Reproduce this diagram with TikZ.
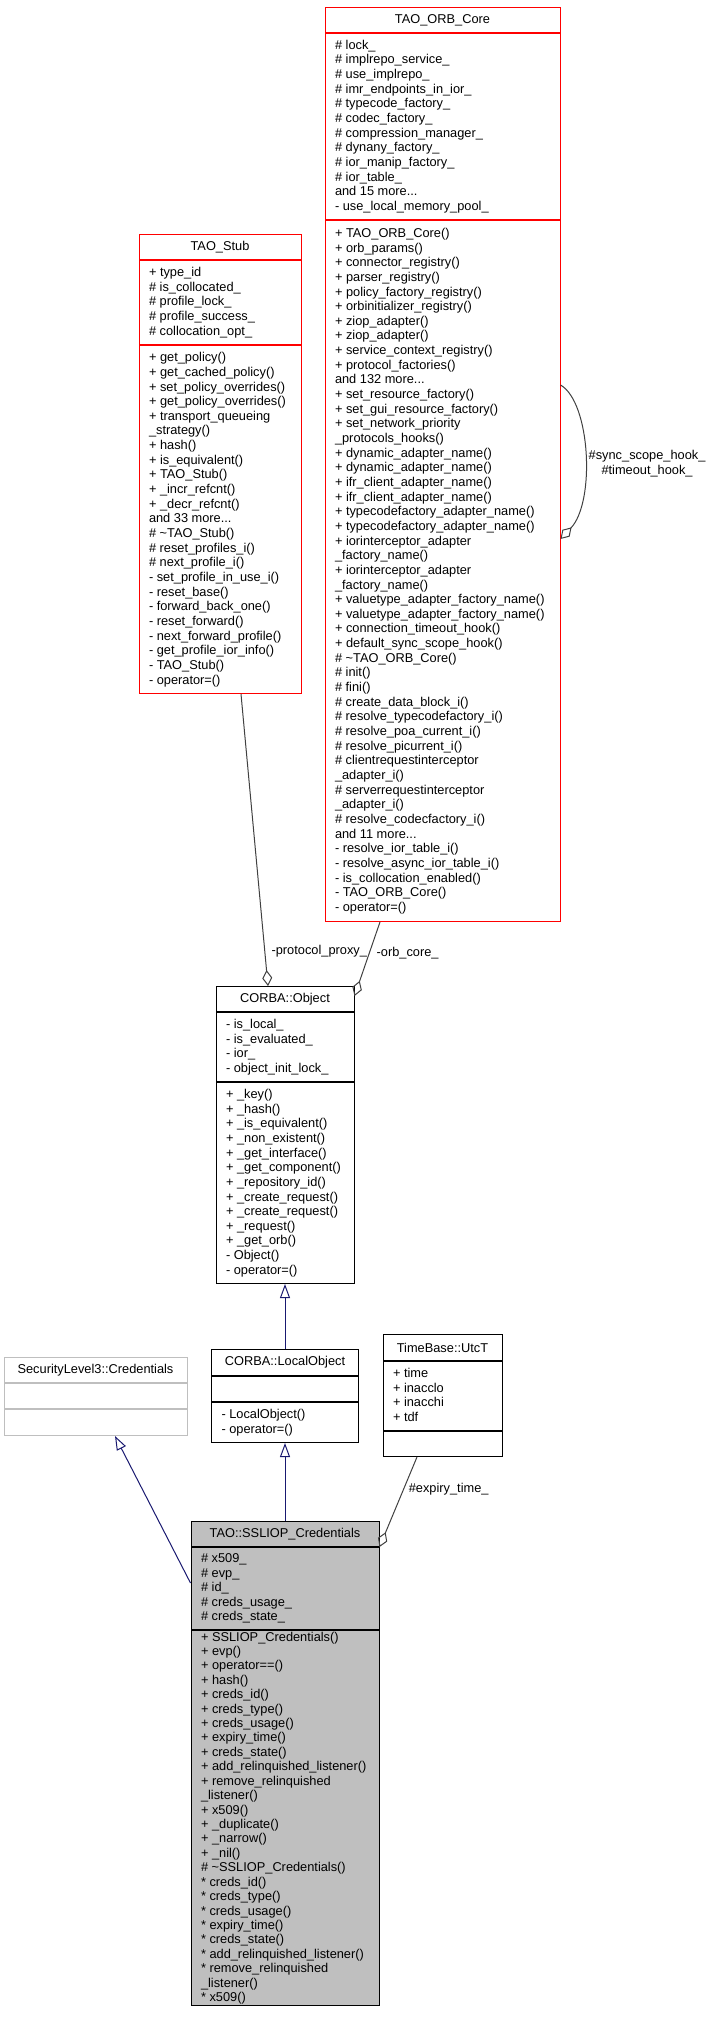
\documentclass[tikz,border=0pt]{standalone}
\usepackage{fontspec}
\setmainfont{Liberation Sans}
\usetikzlibrary{arrows.meta}
\definecolor{C1}{HTML}{FF0000}
\definecolor{C2}{HTML}{191970}
\definecolor{C3}{HTML}{404040}
\definecolor{C4}{HTML}{BFBFBF}
\def\fs{\fontsize{12.8}{14.65}\selectfont\offinterlineskip}
\def\fss{\fontsize{12.8}{14.42}\selectfont\offinterlineskip}
\def\ls{\rule[-3.95pt]{0pt}{14.65pt}}
\def\lss{\rule[-3.9pt]{0pt}{14.42pt}}
\def\br{\\\ls}
\def\brs{\\\lss}

\begin{document}
\begin{tikzpicture}[x=1pt,y=-1pt]
\tikzstyle{t} = [draw,line width=1pt,anchor=north,align=center,inner xsep=10pt,inner ysep=0pt,minimum height=25pt,font=\fs]
\tikzstyle{p} = [draw,line width=1pt,anchor=north,align=left,inner xsep=10pt,inner ysep=0pt,font=\fs]
\tikzstyle{inh} = [C2,line width=1pt,-{Triangle[open,length=14pt,width=10pt]}]
\tikzstyle{use} = [C3,line width=1pt,-{Diamond[open,length=16pt,width=10pt]}]
\tikzstyle{lbl} = [font=\fs,text=black]
\useasboundingbox (0,0) rectangle (713,2029);

\node[t,draw=C1,minimum width=235pt] (core) at (442.5,7) {TAO\_ORB\_Core};
\node[p,draw=C1,minimum width=235pt,minimum height=186pt] (core-a) at (core.south) {\ls\makebox[215pt][l]{\# lock\_}\br\# implrepo\_service\_\br\# use\_implrepo\_\br\# imr\_endpoints\_in\_ior\_\br\# typecode\_factory\_\br\# codec\_factory\_\br\# compression\_manager\_\br\# dynany\_factory\_\br\# ior\_manip\_factory\_\br\# ior\_table\_\br and 15 more...\br- use\_local\_memory\_pool\_};
\node[p,draw=C1,minimum width=235pt,minimum height=701pt] (core-m) at (core-a.south) {\ls\makebox[215pt][l]{+ TAO\_ORB\_Core()}\br+ orb\_params()\br+ connector\_registry()\br+ parser\_registry()\br+ policy\_factory\_registry()\br+ orbinitializer\_registry()\br+ ziop\_adapter()\br+ ziop\_adapter()\br+ service\_context\_registry()\br+ protocol\_factories()\br and 132 more...\br+ set\_resource\_factory()\br+ set\_gui\_resource\_factory()\br+ set\_network\_priority\br\_protocols\_hooks()\br+ dynamic\_adapter\_name()\br+ dynamic\_adapter\_name()\br+ ifr\_client\_adapter\_name()\br+ ifr\_client\_adapter\_name()\br+ typecodefactory\_adapter\_name()\br+ typecodefactory\_adapter\_name()\br+ iorinterceptor\_adapter\br\_factory\_name()\br+ iorinterceptor\_adapter\br\_factory\_name()\br+ valuetype\_adapter\_factory\_name()\br+ valuetype\_adapter\_factory\_name()\br+ connection\_timeout\_hook()\br+ default\_sync\_scope\_hook()\br\# \textasciitilde TAO\_ORB\_Core()\br\# init()\br\# fini()\br\# create\_data\_block\_i()\br\# resolve\_typecodefactory\_i()\br\# resolve\_poa\_current\_i()\br\# resolve\_picurrent\_i()\br\# clientrequestinterceptor\br\_adapter\_i()\br\# serverrequestinterceptor\br\_adapter\_i()\br\# resolve\_codecfactory\_i()\br and 11 more...\br- resolve\_ior\_table\_i()\br- resolve\_async\_ior\_table\_i()\br- is\_collocation\_enabled()\br- TAO\_ORB\_Core()\br- operator=()};

\node[t,draw=C1,minimum width=162pt] (stub) at (220,234) {TAO\_Stub};
\node[p,draw=C1,minimum width=162pt,minimum height=84pt] (stub-a) at (stub.south) {\ls\makebox[142pt][l]{+ type\_id}\br\# is\_collocated\_\br\# profile\_lock\_\br\# profile\_success\_\br\# collocation\_opt\_};
\node[p,draw=C1,minimum width=162pt,minimum height=348pt] (stub-m) at (stub-a.south) {\ls\makebox[142pt][l]{+ get\_policy()}\br+ get\_cached\_policy()\br+ set\_policy\_overrides()\br+ get\_policy\_overrides()\br+ transport\_queueing\br\_strategy()\br+ hash()\br+ is\_equivalent()\br+ TAO\_Stub()\br+ \_incr\_refcnt()\br+ \_decr\_refcnt()\br and 33 more...\br\# \textasciitilde TAO\_Stub()\br\# reset\_profiles\_i()\br\# next\_profile\_i()\br- set\_profile\_in\_use\_i()\br- reset\_base()\br- forward\_back\_one()\br- reset\_forward()\br- next\_forward\_profile()\br- get\_profile\_ior\_info()\br- TAO\_Stub()\br- operator=()};

\node[t,minimum width=138pt] (obj) at (285,986) {CORBA::Object};
\node[p,minimum width=138pt,minimum height=69pt] (obj-a) at (obj.south) {\ls\makebox[118pt][l]{- is\_local\_}\br- is\_evaluated\_\br- ior\_\br- object\_init\_lock\_};
\node[p,minimum width=138pt,minimum height=201pt] (obj-m) at (obj-a.south) {\ls\makebox[118pt][l]{+ \_key()}\br+ \_hash()\br+ \_is\_equivalent()\br+ \_non\_existent()\br+ \_get\_interface()\br+ \_get\_component()\br+ \_repository\_id()\br+ \_create\_request()\br+ \_create\_request()\br+ \_request()\br+ \_get\_orb()\br- Object()\br- operator=()};

\node[t,draw=C4,minimum width=183pt] (cred) at (95.5,1357) {SecurityLevel3::Credentials};
\node[p,draw=C4,minimum width=183pt,minimum height=25pt] (cred-a) at (cred.south) {};
\node[p,draw=C4,minimum width=183pt,minimum height=26pt] (cred-m) at (cred-a.south) {};

\node[t,minimum width=147pt,minimum height=26pt] (lobj) at (285,1349) {CORBA::LocalObject};
\node[p,minimum width=147pt,minimum height=25pt] (lobj-a) at (lobj.south) {};
\node[p,minimum width=147pt,minimum height=40pt] (lobj-m) at (lobj-a.south) {\ls\makebox[127pt][l]{- LocalObject()}\br- operator=()};

\node[t,minimum width=119pt,minimum height=26pt] (utc) at (442.5,1334) {TimeBase::UtcT};
\node[p,minimum width=119pt,minimum height=69pt] (utc-a) at (utc.south) {\ls\makebox[99pt][l]{+ time}\br+ inacclo\br+ inacchi\br+ tdf};
\node[p,minimum width=119pt,minimum height=25pt] (utc-m) at (utc-a.south) {};

\node[t,fill=C4,minimum width=188pt] (ssl) at (285,1521) {TAO::SSLIOP\_Credentials};
\node[p,fill=C4,font=\fss,minimum width=188pt,minimum height=82pt] (ssl-a) at (ssl.south) {\lss\makebox[168pt][l]{\# x509\_}\brs\# evp\_\brs\# id\_\brs\# creds\_usage\_\brs\# creds\_state\_};
\node[p,fill=C4,font=\fss,minimum width=188pt,minimum height=370pt] (ssl-m) at (ssl-a.south) {\lss\makebox[168pt][l]{+ SSLIOP\_Credentials()}\brs+ evp()\brs+ operator==()\brs+ hash()\brs+ creds\_id()\brs+ creds\_type()\brs+ creds\_usage()\brs+ expiry\_time()\brs+ creds\_state()\brs+ add\_relinquished\_listener()\brs+ remove\_relinquished\brs\_listener()\brs+ x509()\brs+ \_duplicate()\brs+ \_narrow()\brs+ \_nil()\brs\# \textasciitilde SSLIOP\_Credentials()\brs{*} creds\_id()\brs{*} creds\_type()\brs{*} creds\_usage()\brs{*} expiry\_time()\brs{*} creds\_state()\brs{*} add\_relinquished\_listener()\brs{*} remove\_relinquished\brs\_listener()\brs{*} x509()};

\draw[use] ([xshift=21pt]stub-m.south) -- ([xshift=-17pt]obj.north) node[lbl,pos=0.88,anchor=west,xshift=3pt] {-protocol\_proxy\_};
\draw[use] ([xshift=-62.5pt]core-m.south) -- ([yshift=-10pt]obj.north east) node[lbl,pos=0.42,anchor=west,xshift=3.5pt] {-orb\_core\_};
\draw[use] ([yshift=-165pt]core-m.north east) .. controls +(30,17) and +(35,-37) .. ([yshift=-319pt]core-m.north east) node[lbl,pos=0.5,anchor=west,yshift=-9pt,align=center] {\ls\#sync\_scope\_hook\_\br\#timeout\_hook\_};
\draw[use] ([xshift=-25.5pt]utc-m.south) -- (ssl.south east) node[lbl,pos=0.36,anchor=west,xshift=1.5pt] {\#expiry\_time\_};
\draw[inh] (lobj.north) -- (obj-m.south);
\draw[inh] (ssl.north) -- (lobj-m.south);
\draw[inh] ([yshift=-36pt]ssl-a.north west) -- ([xshift=19.5pt]cred-m.south);
\end{tikzpicture}
\end{document}
